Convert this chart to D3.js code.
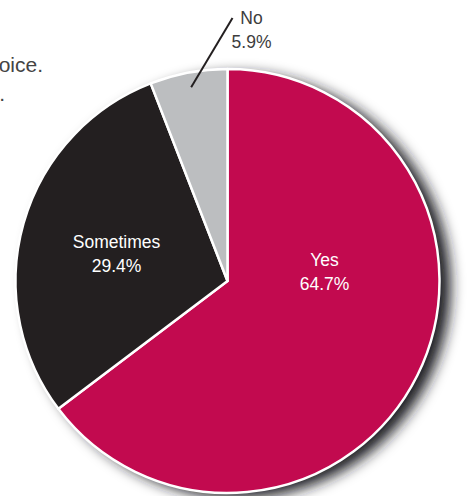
<!DOCTYPE html>
<html>
<head>
<meta charset="utf-8">
<script src="https://cdn.jsdelivr.net/npm/d3@7/dist/d3.min.js"></script>
<style>
  html, body { margin: 0; padding: 0; background: #fff; }
  svg { display: block; }
  text { font-family: "Helvetica Neue", Helvetica, "Liberation Sans", Arial, sans-serif; }
</style>
</head>
<body>
<svg id="chart" width="468" height="496"></svg>
<script>
// Survey answers and their shares (percent)
const categories = ["Yes", "Sometimes", "No"];
const shares = [64.7, 29.4, 5.9];
const colors = ["#c20a4f", "#231f20", "#bcbec0"];
const labelColors = ["#ffffff", "#ffffff", "#3d3d3d"];
// Intro sentence, partly running off the left side
const introLines = ["Respondents could pick one choice.", "Base: all respondents."];

const W = 468, H = 496;
const cx = 227.5, cy = 281, R = 212;

const svg = d3.select("#chart");

const defs = svg.append("defs");
const blur = defs.append("filter").attr("id", "shadow")
  .attr("x", "-20%").attr("y", "-20%").attr("width", "140%").attr("height", "140%");
blur.append("feGaussianBlur").attr("stdDeviation", 7);

// intro text
svg.append("g").selectAll("text").data(introLines).join("text")
  .attr("x", (d, i) => i === 0 ? 43 : 5)
  .attr("y", (d, i) => 72 + i * 29)
  .attr("text-anchor", "end")
  .attr("font-size", 21)
  .attr("fill", "#444")
  .text(d => d);

const g = svg.append("g").attr("transform", `translate(${cx},${cy})`);

// soft shadow behind the pie, falling to the lower right
g.append("circle")
  .attr("cx", 11).attr("cy", 5).attr("r", R)
  .attr("fill", "#1e1f21")
  .attr("filter", "url(#shadow)");

const pie = d3.pie().sort(null).value(d => d.v);
const arcs = pie(categories.map((c, i) => ({ c, v: shares[i], i })));
const arc = d3.arc().innerRadius(0).outerRadius(R);

g.selectAll("path.slice").data(arcs).join("path")
  .attr("class", "slice")
  .attr("d", arc)
  .attr("fill", d => colors[d.data.i])
  .attr("stroke", "#fff")
  .attr("stroke-width", 2.5)
  .attr("stroke-linejoin", "round");

// label positions, as offsets from the pie centre
const labelPos = [
  { x: 97, y: -15 },
  { x: -111, y: -33 },
  { x: 24, y: -257 }
];

const labels = g.selectAll("g.lbl").data(arcs).join("g")
  .attr("class", "lbl")
  .attr("transform", (d, i) => `translate(${labelPos[i].x},${labelPos[i].y})`);
labels.append("text")
  .attr("text-anchor", "middle")
  .attr("font-size", 17.5)
  .attr("fill", d => labelColors[d.data.i])
  .text(d => d.data.c);
labels.append("text")
  .attr("text-anchor", "middle")
  .attr("y", 23.5)
  .attr("font-size", 17.5)
  .attr("fill", d => labelColors[d.data.i])
  .text(d => d3.format(".1f")(d.data.v) + "%");

// leader line for the small "No" slice
const noArc = arcs[2];
const inner = d3.arc().innerRadius(R * 0.93).outerRadius(R * 0.93).centroid(noArc);
g.append("line")
  .attr("x1", inner[0]).attr("y1", inner[1])
  .attr("x2", 5).attr("y2", -263)
  .attr("stroke", "#231f20")
  .attr("stroke-width", 2);
</script>
</body>
</html>
